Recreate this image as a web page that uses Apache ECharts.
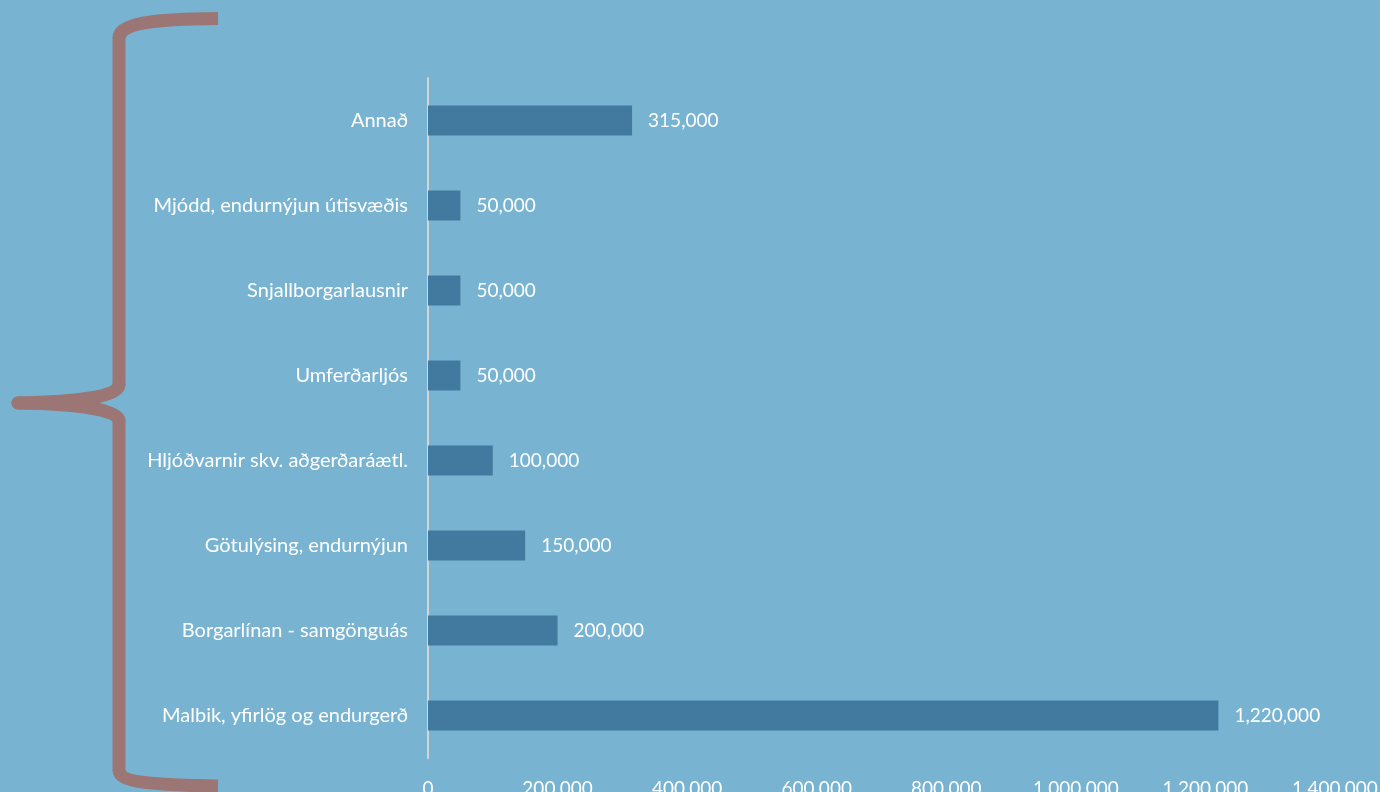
<!DOCTYPE html>
<html><head><meta charset="utf-8">
<script src="https://cdn.jsdelivr.net/npm/echarts@6/dist/echarts.min.js"></script>
<style>html,body{margin:0;padding:0;background:#78b4d2;}#c{width:1380px;height:792px;}</style>
</head><body><div id="c"></div>
<script>
const categories = ["Malbik, yfirlög og endurgerð","Borgarlínan - samgönguás","Götulýsing, endurnýjun","Hljóðvarnir skv. aðgerðaráætl.","Umferðarljós","Snjallborgarlausnir","Mjódd, endurnýjun útisvæðis","Annað"];
const values = [1220000,200000,150000,100000,50000,50000,50000,315000];
const xTicks = [0,200000,400000,600000,800000,1000000,1200000,1400000];
const fmt = v => Number(v).toLocaleString('en-US');
const braceStyle = {fill:null,stroke:'#9b7674',lineWidth:13,lineCap:'butt'};
const braceRound = {fill:null,stroke:'#9b7674',lineWidth:13,lineCap:'round'};
const chart = echarts.init(document.getElementById('c'));
chart.setOption({
  backgroundColor:'#78b4d2',
  animation:false,
  textStyle:{fontFamily:'Lato'},
  grid:{left:428,right:45,top:78,bottom:34,containLabel:false,outerBoundsMode:'none'},
  xAxis:{type:'value',min:xTicks[0],max:xTicks[xTicks.length-1],interval:200000,
    axisLine:{show:false},axisTick:{show:false},splitLine:{show:false},
    axisLabel:{color:'#ffffff',fontSize:19,margin:21,formatter:fmt}},
  yAxis:{type:'category',data:categories,
    axisLine:{show:true,lineStyle:{color:'#d4d4d4',width:2}},axisTick:{show:false},
    axisLabel:{color:'#ffffff',fontSize:20,margin:20,padding:[3,0,0,0]}},
  series:[{type:'bar',data:values,barWidth:30,
    itemStyle:{color:'#41799f'},
    label:{show:true,position:'right',distance:16,color:'#ffffff',fontSize:19,padding:[3,0,0,0],formatter:p=>fmt(p.value)}}],
  graphic:[
    {type:'bezierCurve',silent:true,shape:{x1:218,y1:18.5,cpx1:150,cpy1:19,cpx2:119,cpy2:24,x2:119,y2:38},style:braceStyle},
    {type:'line',silent:true,shape:{x1:119,y1:37,x2:119,y2:386},style:braceStyle},
    {type:'bezierCurve',silent:true,shape:{x1:119,y1:385,cpx1:119,cpy1:396,cpx2:80,cpy2:402,x2:18,y2:403},style:braceRound},
    {type:'bezierCurve',silent:true,shape:{x1:18,y1:403,cpx1:80,cpy1:404,cpx2:119,cpy2:410,x2:119,y2:421},style:braceRound},
    {type:'line',silent:true,shape:{x1:119,y1:420,x2:119,y2:771},style:braceStyle},
    {type:'bezierCurve',silent:true,shape:{x1:119,y1:770,cpx1:119,cpy1:782,cpx2:150,cpy2:785,x2:218,y2:786},style:braceStyle}
  ]
});
</script></body></html>
